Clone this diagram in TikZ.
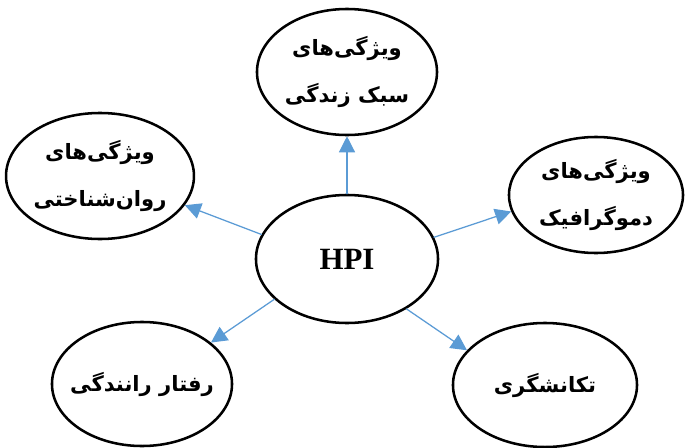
\documentclass[tikz,border=0pt]{standalone}
\usepackage{fontspec}
\usepackage{tikz}
\usetikzlibrary{arrows.meta}
\usetikzlibrary{shapes.geometric}
\setmainfont{Liberation Serif}
\newfontfamily\farsi[Script=Arabic]{DejaVu Sans}
\TeXXeTstate=1
\definecolor{linkblue}{RGB}{91,155,213}
\tikzset{
  bubble/.style={ellipse,draw=black,line width=1.8pt,inner sep=0pt,align=center,
    font=\farsi\bfseries\fontsize{15}{33}\selectfont},
  link/.style={draw=linkblue,line width=0.9pt,-{Triangle[length=4mm,width=4mm]}}
}
\begin{document}
\begin{tikzpicture}[line cap=round,line join=round,x=0.025cm,y=-0.025cm]
    \useasboundingbox (0,0) rectangle (686,448);
    \node[bubble,minimum width=4.55cm,minimum height=3.2cm,font=\bfseries\fontsize{22}{26}\selectfont] (hpi) at (347,259) {HPI};
    \node[bubble,minimum width=4.5cm,minimum height=3.15cm] (sabk) at (347,72) {\beginR ویژگی‌های\endR\\ \beginR سبک زندگی\endR};
    \node[bubble,minimum width=4.65cm,minimum height=3.15cm] (ravan) at (100,176) {\beginR ویژگی‌های\endR\\ \beginR روان‌شناختی\endR};
    \node[bubble,minimum width=4.35cm,minimum height=2.9cm] (demo) at (596,195) {\beginR ویژگی‌های\endR\\ \beginR دموگرافیک\endR};
    \node[bubble,minimum width=4.5cm,minimum height=3.1cm,inner xsep=-0.35cm] (raftar) at (142,384) {\beginR رفتار رانندگی\endR};
    \node[bubble,minimum width=4.6cm,minimum height=3.1cm] (takan) at (545,385) {\beginR تکانشگری\endR};
    \draw[link] (hpi.90) -- (sabk.270);
    \draw[link] (hpi.164) -- (ravan.-19);
    \draw[link] (hpi.14) -- (demo.191);
    \draw[link] (hpi.209) -- (raftar.31);
    \draw[link] (hpi.320) -- (takan.156);
\end{tikzpicture}
\end{document}
